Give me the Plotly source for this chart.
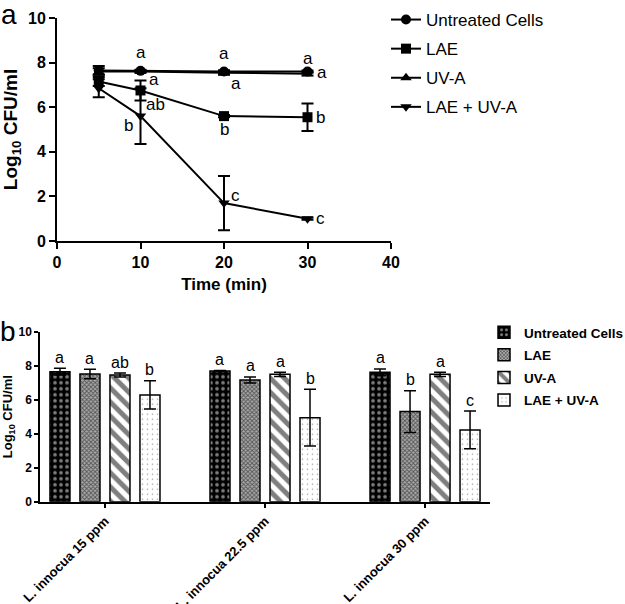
import plotly.graph_objects as go

# ---------------- Panel a data ----------------
time_min = [5, 10, 20, 30]
series_a = ["Untreated Cells", "LAE", "UV-A", "LAE + UV-A"]
vals_untreated = [7.65, 7.63, 7.60, 7.60]
vals_lae = [7.15, 6.75, 5.60, 5.55]
vals_uva = [7.60, 7.60, 7.55, 7.50]
vals_lae_uva = [6.85, 5.60, 1.70, 1.00]
err_untreated = [0.20, 0.05, 0.05, 0.05]
err_lae = [0.20, 0.45, 0.05, 0.62]
err_uva = [0.15, 0.05, 0.10, 0.08]
err_lae_uva = [0.40, 1.25, 1.22, 0.05]
symbols_a = ["circle", "square", "triangle-up", "triangle-down"]

# letters panel a: (series index, point index, text, xshift px, yshift px)
letters_a = [
    (0, 1, "a", 0, 18), (0, 2, "a", 0, 18), (0, 3, "a", 0, 13),
    (2, 3, "a", 14, 1), (2, 2, "a", 12, -11),
    (1, 1, "a", 13, 11), (3, 1, "ab", 15, 12), (3, 1, "b", -12, -9),
    (1, 2, "b", 0, -13), (1, 3, "b", 13, 0),
    (3, 2, "c", 11, 8), (3, 3, "c", 13, 0),
]

# ---------------- Panel b data ----------------
groups_b = ["L. innocua 15 ppm", "L. innocua 22.5 ppm", "L. innocua 30 ppm"]
bar_untreated = [7.65, 7.69, 7.61]
bar_lae = [7.51, 7.16, 5.30]
bar_uva = [7.45, 7.49, 7.49]
bar_lae_uva = [6.28, 4.94, 4.22]
berr_untreated = [0.20, 0.03, 0.20]
berr_lae = [0.28, 0.18, 1.23]
berr_uva = [0.12, 0.12, 0.12]
berr_lae_uva = [0.83, 1.67, 1.11]
letters_b = [
    ["a", "a", "a"],
    ["a", "a", "b"],
    ["ab", "a", "a"],
    ["b", "b", "c"],
]

FONT = "Liberation Sans, Arial, Helvetica, sans-serif"
W, H = 625, 604


def fx(px):
    return px / W


def fy(py):
    return 1 - py / H


fig = go.Figure()

vals_a = [vals_untreated, vals_lae, vals_uva, vals_lae_uva]
errs_a = [err_untreated, err_lae, err_uva, err_lae_uva]
for i, name in enumerate(series_a):
    fig.add_trace(go.Scatter(
        x=time_min, y=vals_a[i], name=name, mode="lines+markers",
        line=dict(color="black", width=2),
        marker=dict(symbol=symbols_a[i], size=10, color="black"),
        error_y=dict(type="data", array=errs_a[i], color="black", thickness=2, width=6),
        xaxis="x", yaxis="y", legend="legend", legendgroup="a%d" % i,
    ))

# Panel b bars
bar_vals = [bar_untreated, bar_lae, bar_uva, bar_lae_uva]
bar_errs = [berr_untreated, berr_lae, berr_uva, berr_lae_uva]
patterns = [
    dict(shape=".", fgcolor="white", bgcolor="black", size=6, solidity=0.3),
    dict(shape="x", fgcolor="black", bgcolor="#aaa", size=3, solidity=0.5),
    dict(shape="\\", fgcolor="black", bgcolor="white", size=10, solidity=0.5),
    dict(shape=".", fgcolor="#444", bgcolor="white", size=5, solidity=0.08),
]
xg = list(range(len(groups_b)))
for i, name in enumerate(series_a):
    fig.add_trace(go.Bar(
        x=xg, y=bar_vals[i], name=name,
        marker=dict(color="white", pattern=patterns[i], line=dict(color="black", width=1.5)),
        error_y=dict(type="data", array=bar_errs[i], color="black", thickness=1.5, width=6),
        xaxis="x2", yaxis="y2", legend="legend2", legendgroup="b%d" % i,
    ))

BARGAP = 0.25
slot = (1 - BARGAP) / 4
annotations = []
for (si, pi, txt, xs, ys) in letters_a:
    annotations.append(dict(x=time_min[pi], y=vals_a[si][pi], xref="x", yref="y", text=txt,
                            showarrow=False, xshift=xs, yshift=ys,
                            font=dict(family=FONT, size=17, color="black")))
for i in range(4):
    for g in xg:
        annotations.append(dict(x=g + (i - 1.5) * slot, y=bar_vals[i][g] + bar_errs[i][g],
                                xref="x2", yref="y2", text=letters_b[i][g], showarrow=False,
                                yshift=11, font=dict(family=FONT, size=16, color="black")))
annotations.append(dict(x=fx(0), y=fy(0), xref="paper", yref="paper", text="a", showarrow=False,
                        xanchor="left", yanchor="top", xshift=-1, yshift=3,
                        font=dict(family=FONT, size=28, color="black")))
annotations.append(dict(x=fx(0), y=fy(314), xref="paper", yref="paper", text="b", showarrow=False,
                        xanchor="left", yanchor="top", xshift=-2,
                        font=dict(family=FONT, size=28, color="black")))

axis_common = dict(showline=True, linecolor="black", ticks="outside", tickcolor="black",
                   showgrid=False, zeroline=False, mirror=False, automargin=False)

fig.update_layout(
    width=W, height=H, margin=dict(l=0, r=0, t=0, b=0, autoexpand=False),
    plot_bgcolor="white", paper_bgcolor="white",
    barmode="group", bargap=BARGAP, bargroupgap=0.333,
    xaxis=dict(domain=[fx(57), fx(391)], range=[0, 40], tickvals=[0, 10, 20, 30, 40],
               linewidth=2, tickwidth=2, ticklen=6, anchor="y",
               tickfont=dict(family=FONT, size=16, weight="bold", color="black"),
               title=dict(text="Time (min)", standoff=8,
                          font=dict(family=FONT, size=17, weight="bold", color="black")),
               **axis_common),
    yaxis=dict(domain=[fy(241), fy(18)], range=[0, 10], tickvals=[0, 2, 4, 6, 8, 10],
               linewidth=2, tickwidth=2, ticklen=6, anchor="x",
               tickfont=dict(family=FONT, size=16, weight="bold", color="black"),
               title=dict(text="Log<sub>10</sub> CFU/ml", standoff=10,
                          font=dict(family=FONT, size=19, weight="bold", color="black")),
               **axis_common),
    xaxis2=dict(domain=[fx(40), fx(490)], range=[-0.406, 2.406], tickvals=xg, ticktext=groups_b,
                tickangle=-45, linewidth=1.5, tickwidth=1.5, ticklen=5, anchor="y2",
                tickfont=dict(family=FONT, size=13, weight="bold", color="black"),
                **axis_common),
    yaxis2=dict(domain=[fy(501.7), fy(331.7)], range=[0, 10], tickvals=[0, 2, 4, 6, 8, 10],
                linewidth=1.5, tickwidth=1.5, ticklen=4, anchor="x2",
                tickfont=dict(family=FONT, size=12, weight="bold", color="black"),
                title=dict(text="Log<sub>10</sub> CFU/ml", standoff=6,
                           font=dict(family=FONT, size=13, weight="bold", color="black")),
                **axis_common),
    legend=dict(x=fx(386), y=fy(2), xanchor="left", yanchor="top",
                bgcolor="rgba(0,0,0,0)",
                font=dict(family=FONT, size=17, color="black"), tracegroupgap=4,
                traceorder="grouped"),
    legend2=dict(x=fx(484), y=fy(317), xanchor="left", yanchor="top", bgcolor="rgba(0,0,0,0)",
                 font=dict(family=FONT, size=13.5, weight="bold", color="black"), tracegroupgap=2,
                 traceorder="grouped"),
    annotations=annotations,
    showlegend=True,
)

fig.write_html("out.html", config={"displayModeBar": False},
               post_script="document.body.style.margin='0';document.body.style.overflow='hidden';")
